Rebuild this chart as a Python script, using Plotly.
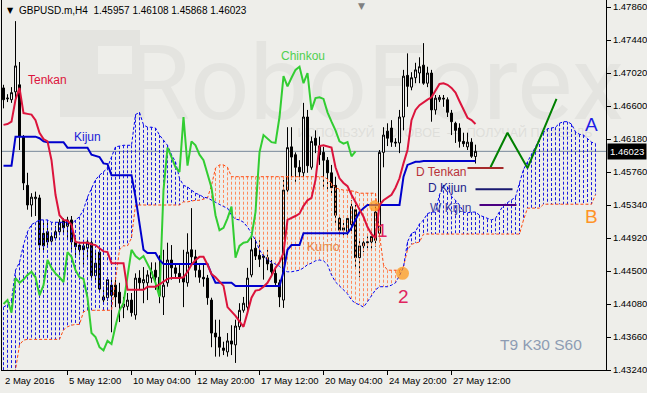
import plotly.graph_objects as go

SYMBOL = "GBPUSD.m,H4"
TIME_LABELS = ["2 May 2016", "5 May 12:00", "10 May 04:00", "12 May 20:00",
               "17 May 12:00", "20 May 04:00", "24 May 20:00", "27 May 12:00"]
TIME_LABEL_BARS = [0, 16, 32, 48, 64, 80, 96, 112]
PRICE_TICKS = [1.43240, 1.43660, 1.44080, 1.44500, 1.44920, 1.45340,
               1.45760, 1.46180, 1.46600, 1.47020, 1.47440, 1.47860]

OPEN = [1.4683, 1.4669, 1.4668, 1.4678, 1.4687, 1.4621, 1.4559, 1.4534, 1.4542, 1.4543,
        1.4498, 1.4500, 1.4488, 1.4492, 1.4500, 1.4514, 1.4507, 1.4515, 1.4487, 1.4483,
        1.4482, 1.4479, 1.4486, 1.4444, 1.4474, 1.4413, 1.4416, 1.4432, 1.4432, 1.4423,
        1.4404, 1.4405, 1.4413, 1.4394, 1.4441, 1.4435, 1.4435, 1.4441, 1.4451, 1.4442,
        1.4417, 1.4435, 1.4464, 1.4454, 1.4447, 1.4442, 1.4435, 1.4477, 1.4468, 1.4451,
        1.4442, 1.4441, 1.4413, 1.4371, 1.4366, 1.4352, 1.4347, 1.4361, 1.4356, 1.4379,
        1.4400, 1.4404, 1.4445, 1.4479, 1.4470, 1.4467, 1.4467, 1.4459, 1.4447, 1.4435,
        1.4413, 1.4553, 1.4608, 1.4598, 1.4582, 1.4575, 1.4646, 1.4582, 1.4619, 1.4609,
        1.4601, 1.4591, 1.4575, 1.4559, 1.4517, 1.4502, 1.4500, 1.4509, 1.4528, 1.4467,
        1.4482, 1.4486, 1.4487, 1.4489, 1.4498, 1.4601, 1.4628, 1.4632, 1.4614, 1.4613,
        1.4646, 1.4699, 1.4684, 1.4696, 1.4702, 1.4712, 1.4689, 1.4702, 1.4655, 1.4668,
        1.4670, 1.4668, 1.4651, 1.4638, 1.4632, 1.4615, 1.4608, 1.4614, 1.45957]
HIGH = [1.4687, 1.4675, 1.4684, 1.4768, 1.4716, 1.4623, 1.4575, 1.4549, 1.4551, 1.4547,
        1.4512, 1.4512, 1.4498, 1.4507, 1.4516, 1.4517, 1.4519, 1.4520, 1.4492, 1.4487,
        1.4489, 1.4492, 1.4489, 1.4477, 1.4479, 1.4430, 1.4442, 1.4439, 1.4439, 1.4435,
        1.4417, 1.4422, 1.4422, 1.4447, 1.4451, 1.4455, 1.4451, 1.4461, 1.4461, 1.4470,
        1.4477, 1.4486, 1.4483, 1.4460, 1.4458, 1.4477, 1.4498, 1.4530, 1.4477, 1.4460,
        1.4458, 1.4445, 1.4416, 1.4388, 1.4388, 1.4360, 1.4371, 1.4381, 1.4388, 1.4409,
        1.4417, 1.4454, 1.4494, 1.4492, 1.4489, 1.4473, 1.4477, 1.4464, 1.4455, 1.4439,
        1.4566, 1.4633, 1.4633, 1.4601, 1.4591, 1.4664, 1.4655, 1.4621, 1.4629, 1.4621,
        1.4608, 1.4595, 1.4585, 1.4570, 1.4521, 1.4515, 1.4521, 1.4540, 1.4534, 1.4489,
        1.4492, 1.4494, 1.4500, 1.4532, 1.4604, 1.4633, 1.4638, 1.4642, 1.4619, 1.4655,
        1.4706, 1.4727, 1.4703, 1.4715, 1.4722, 1.4740, 1.4710, 1.4706, 1.4674, 1.4674,
        1.4674, 1.4671, 1.4655, 1.4640, 1.4638, 1.4626, 1.4626, 1.4619, 1.46108]
LOW = [1.4657, 1.4665, 1.4664, 1.4668, 1.4604, 1.4553, 1.4528, 1.4519, 1.4520, 1.4473,
       1.4474, 1.4482, 1.4486, 1.4489, 1.4497, 1.4498, 1.4492, 1.4477, 1.4467, 1.4470,
       1.4458, 1.4467, 1.4439, 1.4435, 1.4423, 1.4409, 1.4412, 1.4372, 1.4404, 1.4385,
       1.4390, 1.4400, 1.4392, 1.4388, 1.4426, 1.4409, 1.4413, 1.4435, 1.4426, 1.4409,
       1.4394, 1.4430, 1.4439, 1.4441, 1.4435, 1.4404, 1.4430, 1.4458, 1.4442, 1.4435,
       1.4430, 1.4407, 1.4353, 1.4341, 1.4341, 1.4343, 1.4341, 1.4343, 1.4333, 1.4375,
       1.4397, 1.4397, 1.4442, 1.4464, 1.4455, 1.4439, 1.4451, 1.4445, 1.4430, 1.4404,
       1.4403, 1.4549, 1.4566, 1.4563, 1.4566, 1.4566, 1.4575, 1.4579, 1.4600, 1.4585,
       1.4557, 1.4553, 1.4549, 1.4511, 1.4494, 1.4494, 1.4496, 1.4498, 1.4455, 1.4442,
       1.4474, 1.4479, 1.4477, 1.4481, 1.4495, 1.4582, 1.4609, 1.4608, 1.4608, 1.4600,
       1.4629, 1.4659, 1.4680, 1.4689, 1.4689, 1.4687, 1.4684, 1.4640, 1.4649, 1.4665,
       1.4659, 1.4646, 1.4623, 1.4613, 1.4607, 1.4608, 1.4604, 1.4594, 1.45868]
CLOSE = [1.4668, 1.4670, 1.4677, 1.4711, 1.4621, 1.4562, 1.4534, 1.4544, 1.4544, 1.4483,
         1.4482, 1.4487, 1.4494, 1.4500, 1.4512, 1.4505, 1.4515, 1.4487, 1.4481, 1.4477,
         1.4477, 1.4487, 1.4444, 1.4460, 1.4427, 1.4417, 1.4439, 1.4419, 1.4417, 1.4409,
         1.4408, 1.4413, 1.4397, 1.4441, 1.4435, 1.4439, 1.4445, 1.4449, 1.4442, 1.4419,
         1.4432, 1.4464, 1.4454, 1.4447, 1.4442, 1.4436, 1.4474, 1.4468, 1.4451, 1.4442,
         1.4440, 1.4416, 1.4371, 1.4366, 1.4353, 1.4349, 1.4361, 1.4357, 1.4380, 1.4400,
         1.4409, 1.4441, 1.4477, 1.4469, 1.4465, 1.4469, 1.4459, 1.4449, 1.4435, 1.4417,
         1.4553, 1.4607, 1.4595, 1.4582, 1.4576, 1.4646, 1.4584, 1.4615, 1.4610, 1.4598,
         1.4591, 1.4575, 1.4556, 1.4521, 1.4502, 1.4505, 1.4517, 1.4532, 1.4467, 1.4482,
         1.4486, 1.4487, 1.4494, 1.4525, 1.4601, 1.4623, 1.4619, 1.4614, 1.4613, 1.4646,
         1.4698, 1.4685, 1.4696, 1.4706, 1.4710, 1.4689, 1.4702, 1.4655, 1.4670, 1.4671,
         1.4669, 1.4652, 1.4640, 1.4629, 1.4615, 1.4612, 1.4614, 1.4596, 1.46023]

TENKAN = [1.4636, 1.4637, 1.4640, 1.4668, 1.4683, 1.4651, 1.4650, 1.4649, 1.4642, 1.4626,
          1.4618, 1.4615, 1.4591, 1.4547, 1.4521, 1.4515, 1.4514, 1.4509, 1.4487, 1.4486,
          1.4486, 1.4486, 1.4484, 1.4483, 1.4479, 1.4475, 1.4474, 1.4460, 1.4460, 1.4460,
          1.4460, 1.4426, 1.4426, 1.4426, 1.4426, 1.4426, 1.4430, 1.4430, 1.4430, 1.4433,
          1.4437, 1.4440, 1.4441, 1.4441, 1.4441, 1.4442, 1.4449, 1.4458, 1.4464, 1.4468,
          1.4468, 1.4458, 1.4446, 1.4442, 1.4437, 1.4431, 1.4404, 1.4399, 1.4393, 1.4386,
          1.4379, 1.4397, 1.4416, 1.4425, 1.4426, 1.4430, 1.4435, 1.4444, 1.4454, 1.4461,
          1.4473, 1.4515, 1.4517, 1.4520, 1.4523, 1.4533, 1.4540, 1.4543, 1.4566, 1.4609,
          1.4610, 1.4608, 1.4607, 1.4582, 1.4568, 1.4562, 1.4558, 1.4547, 1.4537, 1.4528,
          1.4519, 1.4506, 1.4497, 1.4492, 1.4534, 1.4540, 1.4543, 1.4547, 1.4556, 1.4568,
          1.4587, 1.4604, 1.4642, 1.4655, 1.4661, 1.4665, 1.4668, 1.4671, 1.4680, 1.4688,
          1.4689, 1.4687, 1.4683, 1.4677, 1.4666, 1.4656, 1.4645, 1.4642, 1.4637]
KIJUN = [1.4584, 1.4584, 1.4584, 1.4621, 1.4621, 1.4621, 1.4621, 1.4621, 1.4621, 1.4619,
         1.4615, 1.4614, 1.4614, 1.4614, 1.4614, 1.4614, 1.4607, 1.4607, 1.4607, 1.4607,
         1.4607, 1.4607, 1.4598, 1.4596, 1.4595, 1.4587, 1.4586, 1.4572, 1.4572, 1.4572,
         1.4572, 1.4572, 1.4572, 1.4544, 1.4512, 1.4477, 1.4473, 1.4473, 1.4473, 1.4464,
         1.4459, 1.4459, 1.4459, 1.4459, 1.4459, 1.4459, 1.4459, 1.4459, 1.4459, 1.4459,
         1.4459, 1.4459, 1.4446, 1.4435, 1.4435, 1.4435, 1.4435, 1.4435, 1.4431, 1.4431,
         1.4431, 1.4431, 1.4431, 1.4431, 1.4431, 1.4431, 1.4431, 1.4431, 1.4431, 1.4431,
         1.4449, 1.4477, 1.4483, 1.4483, 1.4483, 1.4498, 1.4498, 1.4498, 1.4498, 1.4498,
         1.4498, 1.4498, 1.4498, 1.4498, 1.4498, 1.4498, 1.4498, 1.4505, 1.4515, 1.4525,
         1.4530, 1.4534, 1.4534, 1.4534, 1.4534, 1.4534, 1.4534, 1.4534, 1.4534, 1.4534,
         1.4570, 1.4585, 1.4587, 1.4589, 1.4589, 1.4590, 1.4590, 1.4590, 1.4590, 1.4590,
         1.4590, 1.4590, 1.4590, 1.4590, 1.4590, 1.4590, 1.4590, 1.4590, 1.4590]
SENKOU_A = [1.4404, 1.4407, 1.4413, 1.4451, 1.4461, 1.4483, 1.4500, 1.4509, 1.4512, 1.4515,
            1.4515, 1.4515, 1.4512, 1.4512, 1.4512, 1.4512, 1.4512, 1.4509, 1.4515, 1.4519,
            1.4528, 1.4544, 1.4556, 1.4566, 1.4572, 1.4576, 1.4582, 1.4595, 1.4608, 1.4609,
            1.4610, 1.4610, 1.4610, 1.4649, 1.4652, 1.4636, 1.4633, 1.4633, 1.4632, 1.4623,
            1.4617, 1.4610, 1.4598, 1.4589, 1.4568, 1.4559, 1.4557, 1.4553, 1.4549, 1.4547,
            1.4544, 1.4543, 1.4540, 1.4538, 1.4534, 1.4532, 1.4530, 1.4521, 1.4516, 1.4515,
            1.4512, 1.4506, 1.4498, 1.4489, 1.4477, 1.4469, 1.4464, 1.4461, 1.4459, 1.4456,
            1.4451, 1.4449, 1.4449, 1.4450, 1.4451, 1.4454, 1.4458, 1.4460, 1.4463, 1.4464,
            1.4463, 1.4458, 1.4445, 1.4436, 1.4431, 1.4426, 1.4421, 1.4413, 1.4409, 1.4407,
            1.4404, 1.4411, 1.4418, 1.4426, 1.4430, 1.4430, 1.4430, 1.4432, 1.4435, 1.4444,
            1.4455, 1.4487, 1.4498, 1.4500, 1.4510, 1.4515, 1.4523, 1.4525, 1.4525, 1.4547,
            1.4559, 1.4557, 1.4545, 1.4540, 1.4534, 1.4525, 1.4524, 1.4525, 1.4525, 1.4521,
            1.4519, 1.4516, 1.4515, 1.4517, 1.4525, 1.4534, 1.4537, 1.4540, 1.4544, 1.4562,
            1.4579, 1.4589, 1.4598, 1.4608, 1.4618, 1.4626, 1.4631, 1.4632, 1.4633, 1.4638,
            1.4640, 1.4640, 1.4637, 1.4627, 1.4624, 1.4623, 1.4618, 1.4614, 1.4612]
SENKOU_B = [1.4321, 1.4321, 1.4321, 1.4324, 1.4356, 1.4362, 1.4363, 1.4363, 1.4363, 1.4363,
            1.4363, 1.4363, 1.4363, 1.4363, 1.4363, 1.4375, 1.4379, 1.4381, 1.4382, 1.4382,
            1.4398, 1.4400, 1.4400, 1.4400, 1.4400, 1.4400, 1.4400, 1.4400, 1.4439, 1.4477,
            1.4482, 1.4482, 1.4492, 1.4534, 1.4534, 1.4534, 1.4534, 1.4534, 1.4534, 1.4534,
            1.4534, 1.4534, 1.4534, 1.4534, 1.4534, 1.4538, 1.4538, 1.4539, 1.4540, 1.4540,
            1.4542, 1.4543, 1.4559, 1.4581, 1.4585, 1.4585, 1.4582, 1.4570, 1.4570, 1.4570,
            1.4570, 1.4570, 1.4570, 1.4570, 1.4570, 1.4570, 1.4570, 1.4570, 1.4570, 1.4570,
            1.4570, 1.4570, 1.4570, 1.4570, 1.4570, 1.4570, 1.4570, 1.4570, 1.4570, 1.4570,
            1.4570, 1.4567, 1.4562, 1.4556, 1.4554, 1.4553, 1.4553, 1.4552, 1.4551, 1.4549,
            1.4549, 1.4549, 1.4549, 1.4549, 1.4496, 1.4458, 1.4451, 1.4451, 1.4451, 1.4451,
            1.4456, 1.4477, 1.4484, 1.4486, 1.4487, 1.4497, 1.4497, 1.4497, 1.4497, 1.4497,
            1.4497, 1.4497, 1.4497, 1.4497, 1.4497, 1.4497, 1.4497, 1.4497, 1.4497, 1.4497,
            1.4497, 1.4497, 1.4497, 1.4497, 1.4497, 1.4497, 1.4497, 1.4497, 1.4497, 1.4497,
            1.4515, 1.4530, 1.4530, 1.4530, 1.4530, 1.4535, 1.4535, 1.4535, 1.4535, 1.4535,
            1.4535, 1.4535, 1.4535, 1.4535, 1.4535, 1.4535, 1.4535, 1.4535, 1.4547]
CHINKOU_SHIFT = 30

FORECAST_BARS = [121.75, 126, 131, 138.25]
FORECAST_PRICES = [1.4582, 1.4626, 1.4581, 1.4669]

LEVEL_NAMES = ["D Tenkan", "D Kijun", "W Kijun"]
LEVEL_PRICES = [1.4581, 1.4554, 1.4534]
LEVEL_START = [116, 118, 119]
LEVEL_END = [125, 127.25, 128.25]

CROSS_BARS = [92.75, 99.75]
CROSS_PRICES = [1.4533, 1.4447]
CROSS_LABELS = ["1", "2"]

BG = "#EEEEEA"
FONT = "Liberation Sans"

bars = list(range(len(OPEN)))
fut = list(range(len(SENKOU_A)))

fig = go.Figure()

# cloud hatching
bx, by, ox, oy = [], [], [], []
for i, (a, b) in enumerate(zip(SENKOU_A, SENKOU_B)):
    if a >= b:
        bx += [i, i, None]; by += [a, b, None]
    else:
        ox += [i, i, None]; oy += [b, a, None]
fig.add_trace(go.Scatter(x=bx, y=by, mode="lines", line=dict(color="#1A1AE0", width=1, dash="3px,2px"),
                         hoverinfo="skip", showlegend=False))
fig.add_trace(go.Scatter(x=ox, y=oy, mode="lines", line=dict(color="#FF8A5C", width=1, dash="3px,2px"),
                         hoverinfo="skip", showlegend=False))
fig.add_trace(go.Scatter(x=fut, y=SENKOU_B, mode="lines", line=dict(color="#FF4A10", width=1, dash="3px,2px"),
                         hoverinfo="skip", showlegend=False))
fig.add_trace(go.Scatter(x=fut, y=SENKOU_A, mode="lines", line=dict(color="#0000F0", width=1, dash="3px,2px"),
                         hoverinfo="skip", showlegend=False))

# candles
fig.add_trace(go.Candlestick(x=bars, open=OPEN, high=HIGH, low=LOW, close=CLOSE,
                             increasing=dict(line=dict(color="black", width=1), fillcolor="white"),
                             decreasing=dict(line=dict(color="black", width=1), fillcolor="black"),
                             whiskerwidth=0, hoverinfo="skip", showlegend=False))

# indicator lines
fig.add_trace(go.Scatter(x=bars[:len(bars) - CHINKOU_SHIFT], y=CLOSE[CHINKOU_SHIFT:], mode="lines",
                         line=dict(color="#32CD32", width=2), hoverinfo="skip", showlegend=False))
fig.add_trace(go.Scatter(x=bars, y=KIJUN, mode="lines", line=dict(color="#0000CD", width=2),
                         hoverinfo="skip", showlegend=False))
fig.add_trace(go.Scatter(x=bars, y=TENKAN, mode="lines", line=dict(color="#DC143C", width=2),
                         hoverinfo="skip", showlegend=False))

# drawn objects
fig.add_trace(go.Scatter(x=FORECAST_BARS, y=FORECAST_PRICES, mode="lines",
                         line=dict(color="#008000", width=2), hoverinfo="skip", showlegend=False))
level_colors = ["#A52A2A", "#191970", "#4B0082"]
for s, e, p, c in zip(LEVEL_START, LEVEL_END, LEVEL_PRICES, level_colors):
    fig.add_trace(go.Scatter(x=[s, e], y=[p, p], mode="lines", line=dict(color=c, width=2),
                             hoverinfo="skip", showlegend=False))
fig.add_trace(go.Scatter(x=CROSS_BARS, y=CROSS_PRICES, mode="markers",
                         marker=dict(color="#FF9410", size=[11, 13], line=dict(width=0)),
                         hoverinfo="skip", showlegend=False))

def px2x(p):
    return (p - 2) / 604.0

def py2y(p):
    return (370 - p) / 370.0

shapes = [
    dict(type="rect", xref="paper", yref="paper", x0=px2x(60), x1=px2x(140), y0=py2y(117), y1=py2y(30),
         fillcolor="#E4E4E0", line=dict(width=0), layer="below"),
    dict(type="rect", xref="paper", yref="paper", x0=px2x(98), x1=px2x(132), y0=py2y(74), y1=py2y(46),
         fillcolor=BG, line=dict(width=0), layer="below"),
    dict(type="rect", xref="paper", yref="paper", x0=px2x(150), x1=px2x(600), y0=py2y(120), y1=py2y(30),
         fillcolor="rgba(0,0,0,0)", line=dict(width=0), layer="below",
         label=dict(text="RoboForex", font=dict(family="Roboto", size=104, color="#E4E4E0"),
                    textposition="middle center")),
    dict(type="rect", xref="paper", yref="paper", x0=px2x(300), x1=px2x(590), y0=py2y(140), y1=py2y(124),
         fillcolor="rgba(0,0,0,0)", line=dict(width=0), layer="below",
         label=dict(text="ИСПОЛЬЗУЙ  ГОТОВОЕ  —  ПОЛУЧАЙ ПРИБЫЛЬ",
                    font=dict(family=FONT, size=12.5, color="#DEDEDA"), textposition="middle center")),
    dict(type="line", xref="paper", yref="y", x0=0, x1=1, y0=CLOSE[-1], y1=CLOSE[-1],
         line=dict(color="#778899", width=1), layer="below"),
]

ann = []
for b, t in zip(TIME_LABEL_BARS, TIME_LABELS):
    ann.append(dict(x=max(b, -0.375), y=0, xref="x", yref="paper", text=t, showarrow=False,
                    xanchor="left", yanchor="top", yshift=-3, xshift=-1,
                    font=dict(family=FONT, size=9.5, color="black")))
title = SYMBOL + "\u00a0\u00a0" + " ".join(f"{v:.5f}" for v in (OPEN[-1], HIGH[-1], LOW[-1], CLOSE[-1]))
ann.append(dict(x=0, y=1, xref="paper", yref="paper", text=title, showarrow=False, xanchor="left",
                yanchor="top", xshift=15, yshift=-3, font=dict(family=FONT, size=10, color="black")))
ann.append(dict(x=0, y=1, xref="paper", yref="paper", text="▼", showarrow=False, xanchor="left",
                yanchor="top", xshift=3, yshift=-4, font=dict(family="DejaVu Sans", size=8, color="black")))
ann.append(dict(x=px2x(361), y=1, xref="paper", yref="paper", text="▼", showarrow=False, xanchor="center",
                yanchor="top", yshift=1, font=dict(family="DejaVu Sans", size=9, color="#808080")))
ann.append(dict(x=1, y=CLOSE[-1], xref="paper", yref="y", text=f"{CLOSE[-1]:.5f}", showarrow=False,
                xanchor="left", yanchor="middle", xshift=1, bgcolor="black", borderpad=2,
                font=dict(family=FONT, size=9.5, color="white")))

def lab(x, y, text, color, size=12, xanchor="left"):
    ann.append(dict(x=x, y=y, xref="x", yref="y", text=text, showarrow=False, xanchor=xanchor,
                    yanchor="middle", font=dict(family=FONT, size=size, color=color)))

lab(5.5, 1.4693, "Tenkan", "#DC143C")
lab(17.0, 1.4621, "Kijun", "#2020D8")
lab(68.8, 1.4724, "Chinkou", "#50D050")
lab(75.3, 1.4481, "Kumo", "#E8894A", 12.5)
lab(116.0, 1.4576, LEVEL_NAMES[0], "#B8323A", 12, "right")
lab(116.3, 1.4556, LEVEL_NAMES[1], "#22228A", 12, "right")
lab(117.3, 1.4530, LEVEL_NAMES[2], "#40409A", 12, "right")
lab(147.0, 1.4636, "A", "#1E1EE6", 19, "center")
lab(147.0, 1.4519, "B", "#FF9326", 19, "center")
lab(94.75, 1.4502, CROSS_LABELS[0], "#E0245E", 19, "center")
lab(100.0, 1.4418, CROSS_LABELS[1], "#E0245E", 19, "center")
lab(123.5, 1.4357, "T9 K30 S60", "#8D9CB3", 15.5)

fig.update_layout(
    width=647, height=393, margin=dict(l=2, r=41, t=0, b=23),
    paper_bgcolor=BG, plot_bgcolor=BG,
    font=dict(family=FONT, size=9.5, color="black"),
    shapes=shapes, annotations=ann, showlegend=False,
    xaxis=dict(range=[-0.375, 150.625], showgrid=False, zeroline=False, showline=True, linecolor="black",
               linewidth=1, ticks="outside", ticklen=4, tickcolor="black", tickvals=TIME_LABEL_BARS[1:],
               showticklabels=False, rangeslider=dict(visible=False), automargin=False, fixedrange=True),
    yaxis=dict(range=[1.4324, 1.4324 + 370 * 0.0042 / 33], side="right", showgrid=False, zeroline=False,
               showline=True, mirror=True, linecolor="black", linewidth=1, ticks="outside", ticklen=4,
               tickcolor="black", tickvals=PRICE_TICKS, ticktext=[f"{v:.5f}" for v in PRICE_TICKS],
               tickfont=dict(family=FONT, size=9.5, color="black"), automargin=False, fixedrange=True),
)

fig.write_html("out.html")
